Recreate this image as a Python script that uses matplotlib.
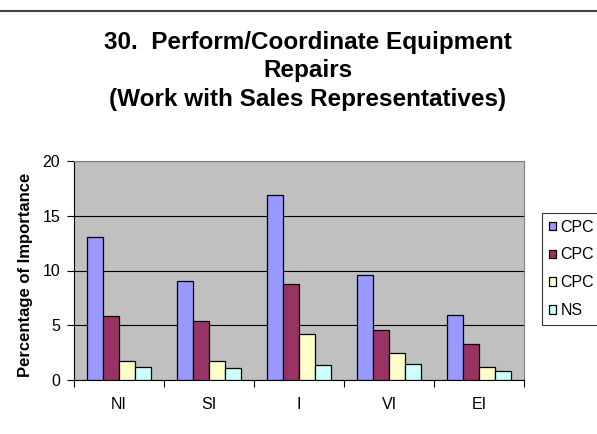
import numpy as np
from matplotlib import pyplot as plt

plt.rcParams['font.family'] = ['Liberation Sans', 'DejaVu Sans']

categories = ['NI', 'SI', 'I', 'VI', 'EI']
series_names = ['CPC', 'CPC', 'CPC', 'NS']
cpc1 = [13.1, 9.0, 16.9, 9.6, 5.9]
cpc2 = [5.8, 5.4, 8.8, 4.6, 3.3]
cpc3 = [1.7, 1.7, 4.2, 2.5, 1.2]
ns = [1.2, 1.1, 1.4, 1.5, 0.8]
yticks = [0, 5, 10, 15, 20]

colors = ['#9999FF', '#993366', '#FFFFCC', '#CCFFFF']

W, H = 597, 434
fig = plt.figure(figsize=(W / 100, H / 100), dpi=100)
ax = fig.add_axes([74 / W, 1 - 380 / H, 450 / W, 219 / H])
ax.set_facecolor('#C0C0C0')

x = np.arange(len(categories))
bw = 0.18
for i, (vals, c, name) in enumerate(zip([cpc1, cpc2, cpc3, ns], colors, series_names)):
    ax.bar(x - 1.5 * bw + i * bw, vals, bw, color=c, edgecolor='black',
           linewidth=0.9, label=name, zorder=3)

ax.set_xlim(-0.5, len(categories) - 0.5)
ax.set_ylim(0, 20)
ax.set_yticks(yticks)
ax.set_xticks(np.arange(len(categories) + 1) - 0.5, minor=False)
ax.set_xticklabels([])
ax.set_xticks(x, minor=True)
ax.set_xticklabels(categories, minor=True)
ax.tick_params(axis='x', which='minor', length=0, pad=12, labelsize=11.5)
ax.tick_params(axis='x', which='major', length=5, direction='out', color='black')
ax.tick_params(axis='y', length=5, direction='out', labelsize=11.5, pad=5)
ax.grid(axis='y', color='black', linewidth=0.8, zorder=1)
for s in ['top', 'right']:
    ax.spines[s].set_color('#808080')
for s in ['left', 'bottom']:
    ax.spines[s].set_color('black')

ax.set_ylabel('Percentage of Importance', fontsize=12, fontweight='bold')
ax.yaxis.set_label_coords(-41 / 450, (380 - 275) / 219)

fig.text(308 / W, 1 - 71 / H,
         '30.  Perform/Coordinate Equipment\nRepairs\n(Work with Sales Representatives)',
         ha='center', va='center', fontsize=17.5, fontweight='bold', linespacing=1.3)

fig.add_artist(plt.Line2D([0, 1], [1 - 11 / H, 1 - 11 / H], color='#404040', linewidth=1.5))

leg = fig.legend(loc='upper left', bbox_to_anchor=(542 / W, 1 - 213 / H),
                 frameon=True, fancybox=False, edgecolor='black', fontsize=11.5,
                 handlelength=0.45, handleheight=0.45, handletextpad=0.3,
                 labelspacing=0.8, borderpad=0.42, borderaxespad=0)
leg.get_frame().set_linewidth(0.8)

fig.savefig('out.png', dpi=100)
